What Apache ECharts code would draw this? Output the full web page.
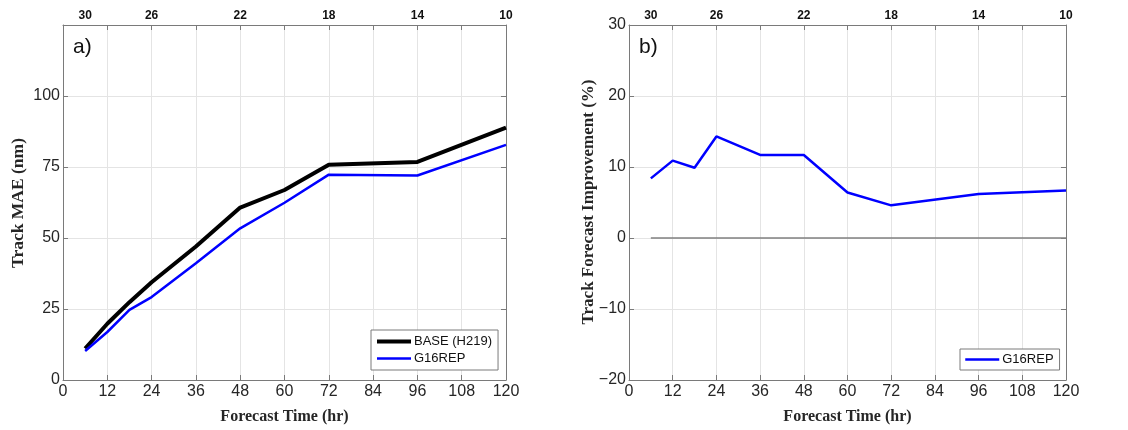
<!DOCTYPE html>
<html>
<head>
<meta charset="utf-8">
<script src="https://cdn.jsdelivr.net/npm/echarts@6/dist/echarts.min.js"></script>
<style>
html,body{margin:0;padding:0;background:#fff;}
#chart{width:1128px;height:430px;}
</style>
</head>
<body>
<div id="chart"></div>
<script>
// ---- data ----
const hours = [6, 12, 18, 24, 36, 48, 60, 72, 96, 120];
const baseMAE = [11.1, 19.8, 27.4, 34.4, 47.0, 60.7, 66.9, 75.8, 76.8, 88.9];
const g16MAE = [10.2, 16.9, 24.7, 29.2, 41.1, 53.4, 62.4, 72.3, 72.0, 82.8];
const g16Improve = [8.4, 10.9, 9.9, 14.3, 11.7, 11.7, 6.4, 4.6, 6.2, 6.7];
const zeroLineHours = [6, 120];
const zeroLineValues = [0, 0];
const sampleHours = [6, 24, 48, 72, 96, 120];
const sampleCounts = ['30', '26', '22', '18', '14', '10'];
const xTickHours = [0, 12, 24, 36, 48, 60, 72, 84, 96, 108, 120];

// ---- styling ----
const SANS = 'Liberation Sans, Arial, Helvetica, sans-serif';
const SERIF = 'Liberation Serif, Times New Roman, serif';
const AX = '#7a7a7a';
const GRID = '#e4e4e4';
const TXT = '#262626';
const BASE_W = 4;
const G16_W = 2.5;

const pair = (xs, ys) => xs.map((x, i) => [x, ys[i]]);
const minusFmt = v => String(v).replace('-', '\u2212');

const grids = [
  { left: 63, right: 622, top: 25, bottom: 48 },
  { left: 629, right: 62, top: 25, bottom: 48 }
];

function xAxesFor(g) {
  return [
    {
      gridIndex: g, type: 'value', position: 'bottom',
      min: xTickHours[0], max: xTickHours[xTickHours.length - 1], interval: 12,
      axisLine: { show: true, onZero: false, lineStyle: { color: AX, width: 1 } },
      axisTick: { show: true, inside: true, length: 5, lineStyle: { color: AX } },
      axisLabel: { fontSize: 16, color: TXT, fontFamily: SANS, margin: 4 },
      splitLine: { show: true, lineStyle: { color: GRID, width: 1 } },
      name: 'Forecast Time (hr)', nameLocation: 'middle', nameGap: 29,
      nameTextStyle: { fontFamily: SERIF, fontWeight: 'bold', fontSize: 16, color: TXT }
    },
    {
      gridIndex: g, type: 'value', position: 'top',
      min: 0, max: 120, interval: 12,
      axisLine: { show: true, onZero: false, lineStyle: { color: AX, width: 1 } },
      axisTick: { show: true, inside: true, length: 5, lineStyle: { color: AX } },
      axisLabel: { show: false },
      splitLine: { show: false }
    },
    {
      gridIndex: g, type: 'value', position: 'top',
      min: 0, max: 120, interval: 6,
      axisLine: { show: false },
      axisTick: { show: false },
      axisLabel: {
        fontSize: 12, fontWeight: 'bold', color: '#111', fontFamily: SANS, margin: 3,
        formatter: v => { const k = sampleHours.indexOf(v); return k >= 0 ? sampleCounts[k] : ''; }
      },
      splitLine: { show: false }
    }
  ];
}

function yAxesFor(g, min, max, interval, hideTop) {
  return [
    {
      gridIndex: g, type: 'value', position: 'left', min: min, max: max, interval: interval,
      axisLine: { show: true, onZero: false, lineStyle: { color: AX, width: 1 } },
      axisTick: { show: true, inside: true, length: 5, lineStyle: { color: AX } },
      axisLabel: {
        fontSize: 16, color: TXT, fontFamily: SANS, margin: 3,
        formatter: v => (hideTop && v === max) ? '' : minusFmt(v)
      },
      splitLine: { show: true, lineStyle: { color: GRID, width: 1 } }
    },
    {
      gridIndex: g, type: 'value', position: 'right', min: min, max: max, interval: interval,
      axisLine: { show: true, onZero: false, lineStyle: { color: AX, width: 1 } },
      axisTick: { show: true, inside: true, length: 5, lineStyle: { color: AX } },
      axisLabel: { show: false },
      splitLine: { show: false }
    }
  ];
}

const legendCommon = {
  orient: 'vertical', selectedMode: false,
  itemWidth: 34, itemHeight: 14, itemGap: 4,
  itemStyle: { opacity: 0, borderWidth: 0 },
  backgroundColor: '#fff', borderColor: AX, borderWidth: 1, borderRadius: 0,
  textStyle: { fontSize: 13, fontFamily: SANS, color: '#111', padding: [0, 0, 0, -2] }
};

const option = {
  animation: false,
  backgroundColor: '#fff',
  grid: grids,
  xAxis: [].concat(xAxesFor(0), xAxesFor(1)),
  yAxis: [].concat(yAxesFor(0, 0, 125, 25, true), yAxesFor(1, -20, 30, 10, false)),
  legend: [
    Object.assign({}, legendCommon, {
      data: [
        { name: 'BASE (H219)', lineStyle: { width: BASE_W } },
        { name: 'G16REP', lineStyle: { width: G16_W } }
      ],
      left: 371, top: 330, padding: [5, 6, 5, 4]
    }),
    Object.assign({}, legendCommon, {
      data: [{ name: 'G16REP', lineStyle: { width: G16_W } }],
      left: 960, top: 349, padding: [4, 6, 4, 4]
    })
  ],
  graphic: [
    { type: 'text', left: 73, top: 37, style: { text: 'a)', fontSize: 21, fontFamily: SANS, fill: '#111' } },
    { type: 'text', left: 639, top: 37, style: { text: 'b)', fontSize: 21, fontFamily: SANS, fill: '#111' } },
    { type: 'text', x: 18, y: 203, rotation: Math.PI / 2,
      style: { text: 'Track MAE (nm)', fontSize: 17.5, fontWeight: 'bold', fontFamily: SERIF, fill: TXT, align: 'center', verticalAlign: 'middle' } },
    { type: 'text', x: 589, y: 202, rotation: Math.PI / 2,
      style: { text: 'Track Forecast Improvement (%)', fontSize: 17, fontWeight: 'bold', fontFamily: SERIF, fill: TXT, align: 'center', verticalAlign: 'middle' } }
  ],
  series: [
    {
      name: 'zero', type: 'line', xAxisIndex: 3, yAxisIndex: 2,
      data: pair(zeroLineHours, zeroLineValues), symbol: 'none', silent: true,
      lineStyle: { color: '#808080', width: 1.5 }, z: 2
    },
    {
      name: 'BASE (H219)', type: 'line', xAxisIndex: 0, yAxisIndex: 0,
      data: pair(hours, baseMAE), symbol: 'none', showSymbol: false,
      lineStyle: { color: '#000', width: BASE_W }, itemStyle: { color: '#000' }, z: 3
    },
    {
      name: 'G16REP', type: 'line', xAxisIndex: 0, yAxisIndex: 0,
      data: pair(hours, g16MAE), symbol: 'none', showSymbol: false,
      lineStyle: { color: '#0000ff', width: G16_W }, itemStyle: { color: '#0000ff' }, z: 4
    },
    {
      name: 'G16REP', type: 'line', xAxisIndex: 3, yAxisIndex: 2,
      data: pair(hours, g16Improve), symbol: 'none', showSymbol: false,
      lineStyle: { color: '#0000ff', width: G16_W }, itemStyle: { color: '#0000ff' }, z: 4
    }
  ]
};

const chart = echarts.init(document.getElementById('chart'), null, { renderer: 'canvas' });
chart.setOption(option);
</script>
</body>
</html>
